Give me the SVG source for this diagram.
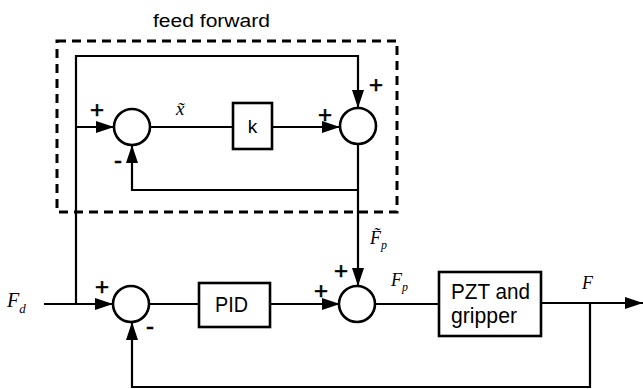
<svg xmlns="http://www.w3.org/2000/svg" width="643" height="389" viewBox="0 0 643 389">
<style>
.ln{fill:none;stroke:#000;stroke-width:2.2}
.sum{fill:#fff;stroke:#000;stroke-width:2.6}
.box{fill:#fff;stroke:#000;stroke-width:2.6}
.dash{fill:none;stroke:#000;stroke-width:3;stroke-dasharray:9 6}
.sans{font-family:"Liberation Sans",Arial,sans-serif;fill:#000}
.lbl{font-size:22px}
.sgn{font-family:"Liberation Sans",Arial,sans-serif;font-size:24px;text-anchor:middle;fill:#000;stroke:#000;stroke-width:0.6}
.it{font-family:"Liberation Serif","Times New Roman",serif;font-style:italic;fill:#000}
</style>
<defs>
<marker id="ah" markerWidth="18" markerHeight="12" refX="18" refY="6" orient="auto" markerUnits="userSpaceOnUse">
<path d="M0,0 L18,6 L0,12 z" fill="#000"/>
</marker>
</defs>
<g id="feedforward-frame">
<rect class="dash" x="57" y="41" width="340" height="171"/>
<text class="sans" x="153" y="27" font-size="18" textLength="117" lengthAdjust="spacingAndGlyphs">feed forward</text>
</g>
<g id="connectors">
<path class="ln" d="M44,304 L113,304" marker-end="url(#ah)"/>
<path class="ln" d="M76,304 L76,56 L358,56 L358,108" marker-end="url(#ah)"/>
<path class="ln" d="M76,127 L114,127" marker-end="url(#ah)"/>
<path class="ln" d="M150,127 L233,127"/>
<path class="ln" d="M272,127 L340,127" marker-end="url(#ah)"/>
<path class="ln" d="M358,145 L358,286" marker-end="url(#ah)"/>
<path class="ln" d="M358,190 L132,190 L132,145" marker-end="url(#ah)"/>
<path class="ln" d="M149,304 L199,304"/>
<path class="ln" d="M270,304 L340,304" marker-end="url(#ah)"/>
<path class="ln" d="M376,304 L439,304"/>
<path class="ln" d="M541,303 L643,303" marker-end="url(#ah)"/>
<path class="ln" d="M590,303 L590,387 L132,387 L132,322" marker-end="url(#ah)"/>
</g>
<g id="sum-ff1">
<circle class="sum" cx="132" cy="127" r="18"/>
<text class="sgn" x="97" y="118">+</text>
<text class="sgn" x="118" y="168">-</text>
</g>
<g id="gain-k">
<rect class="box" x="233" y="103" width="39" height="46"/>
<text class="sans" x="252.5" y="133" font-size="19" text-anchor="middle">k</text>
</g>
<g id="sum-ff2">
<circle class="sum" cx="358" cy="126" r="18"/>
<text class="sgn" x="325" y="123">+</text>
<text class="sgn" x="376" y="93">+</text>
</g>
<g id="label-xtilde">
<text class="it" x="176" y="115" font-size="19">x̃</text>
</g>
<g id="input-Fd">
<text class="it" x="7" y="307" font-size="20">F<tspan font-size="13" dy="6">d</tspan></text>
</g>
<g id="sum-main1">
<circle class="sum" cx="131" cy="304" r="18"/>
<text class="sgn" x="102" y="295">+</text>
<text class="sgn" x="150" y="334">-</text>
</g>
<g id="pid">
<rect class="box" x="199" y="283" width="71" height="44"/>
<text class="sans lbl" x="215" y="312" textLength="33" lengthAdjust="spacingAndGlyphs">PID</text>
</g>
<g id="label-Fp-tilde">
<text class="it" x="370" y="244" font-size="18">F̃<tspan font-size="12" dy="5">p</tspan></text>
</g>
<g id="sum-main2">
<circle class="sum" cx="357" cy="304" r="18"/>
<text class="sgn" x="321" y="299">+</text>
<text class="sgn" x="341" y="279">+</text>
</g>
<g id="label-Fp">
<text class="it" x="391" y="286" font-size="18">F<tspan font-size="12" dy="5">p</tspan></text>
</g>
<g id="plant">
<rect class="box" x="439" y="272" width="102" height="64"/>
<text class="sans lbl" x="451" y="299" textLength="79" lengthAdjust="spacingAndGlyphs">PZT and</text>
<text class="sans lbl" x="451" y="323" textLength="66" lengthAdjust="spacingAndGlyphs">gripper</text>
</g>
<g id="label-F">
<text class="it" x="582" y="289" font-size="18">F</text>
</g>
</svg>
